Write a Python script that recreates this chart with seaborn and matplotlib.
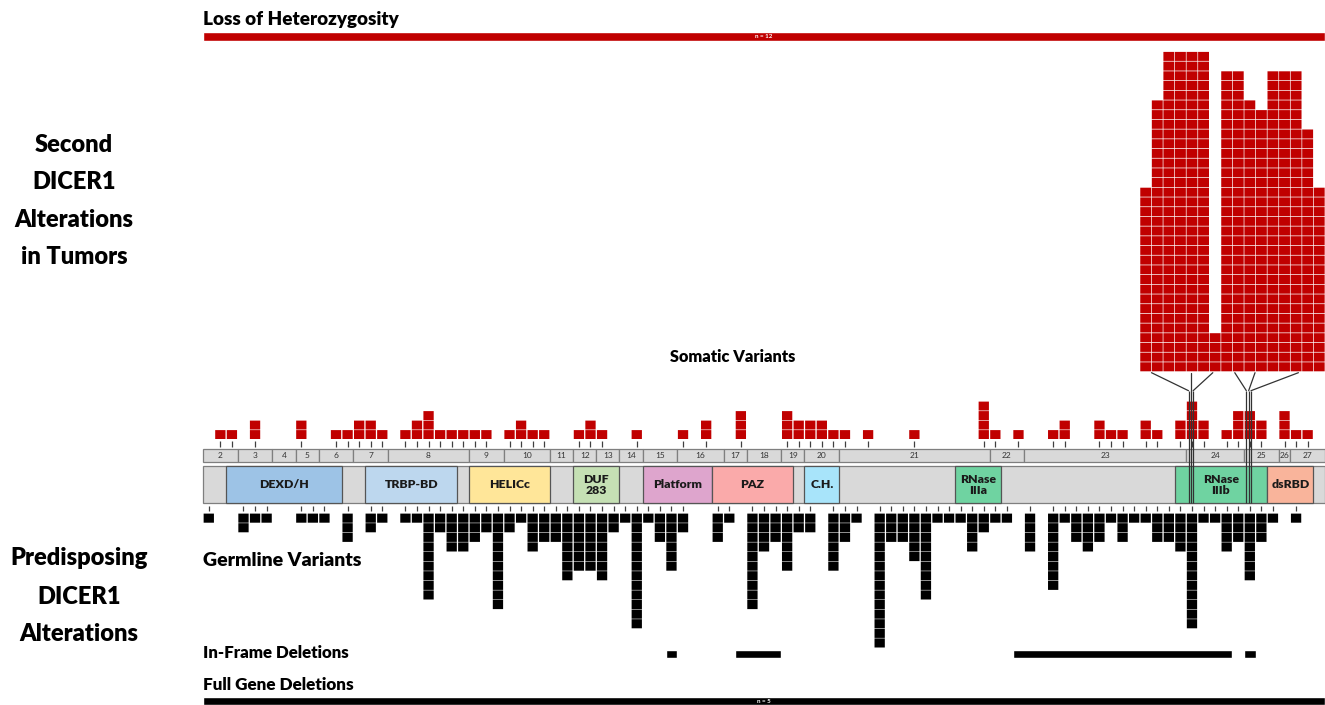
import numpy as np
import pandas as pd
import matplotlib
matplotlib.use("Agg")
from matplotlib import pyplot as plt
import seaborn as sns

# gene axis is in variant slots: 0 = start of the protein bar, 97 = end
exon_edges = [0, 3, 6, 8, 10, 13, 16, 23, 26, 30, 32, 34, 36, 38, 41, 45, 47,
              50, 52, 55, 68, 71, 85, 90, 93, 94, 97]
exon_names = [str(i) for i in range(2, 28)]

domain_names = ["DEXD/H", "TRBP-BD", "HELICc", "DUF\n283", "Platform", "PAZ",
                "C.H.", "RNase\nIIIa", "RNase\nIIIb", "dsRBD"]
domain_start = [2, 14, 23, 32, 38, 44, 52, 65, 84, 92]
domain_end = [12, 22, 30, 36, 44, 51, 55, 69, 92, 96]

# somatic variants (slot, count)
somatic_pos = [1, 2, 4, 8, 11, 12, 13, 14, 15, 17, 18, 19, 20, 21, 22, 23, 24, 26, 27, 28,
               29, 32, 33, 34, 37, 41, 43, 46, 50, 51, 52, 53, 54, 55, 57, 61, 67, 68, 70, 73,
               74, 77, 78, 79, 81, 82, 84, 85, 86, 88, 89, 90, 91, 93, 94, 95]
somatic_n = [1, 1, 2, 2, 1, 1, 2, 2, 1, 1, 2, 3, 1, 1, 1, 1, 1, 1, 2, 1,
             1, 1, 2, 1, 1, 1, 2, 3, 3, 2, 2, 2, 1, 1, 1, 1, 4, 1, 1, 1,
             2, 2, 1, 1, 2, 1, 2, 4, 2, 1, 3, 3, 2, 3, 1, 1]

# germline variants (slot, count)
germline_pos = [0, 3, 4, 5, 8, 9, 10, 12, 14, 15, 17, 18, 19, 20, 21, 22, 23, 24, 25, 26,
                27, 28, 29, 30, 31, 32, 33, 34, 35, 36, 37, 38, 39, 40, 41, 44, 45, 47, 48, 49,
                50, 51, 52, 54, 55, 56, 58, 59, 60, 61, 62, 63, 64, 65, 66, 67, 68, 69, 71, 73,
                74, 75, 76, 77, 78, 79, 80, 81, 82, 83, 84, 85, 86, 87, 88, 89, 90, 91, 92, 94]
germline_n = [1, 2, 1, 1, 1, 1, 1, 3, 2, 1, 1, 1, 9, 2, 4, 4, 3, 2, 10, 2,
              1, 4, 3, 3, 7, 6, 6, 7, 2, 1, 12, 1, 3, 6, 2, 3, 1, 10, 4, 3,
              6, 2, 2, 6, 3, 1, 14, 3, 3, 5, 9, 1, 1, 1, 4, 2, 1, 1, 4, 8,
              1, 3, 4, 3, 1, 3, 1, 1, 3, 3, 4, 12, 1, 1, 4, 3, 7, 3, 1, 1]

# loss of heterozygosity stack (drawn above exons 24-27)
loh_pos = list(range(81, 97))
loh_n = [19, 28, 33, 33, 33, 33, 4, 31, 31, 28, 27, 31, 31, 31, 25, 19]
# fan lines: stack slot -> variant slot
loh_from = [82.0, 85.4, 87.3, 89.2, 90.95, 94.7]
loh_to = [85.2, 85.4, 85.6, 90.2, 90.4, 90.6]

inframe_start = [40, 46, 70, 90]
inframe_end = [41, 50, 89, 91]

loh_total = 12
fullgene_total = 5

RED = "#C00000"
domain_colors = ["#9DC3E6", "#BDD7EE", "#FFE699", "#C5E0B4", "#DEA5CD", "#FAAAAA",
                 "#A8E4FA", "#6FD3A1", "#6FD3A1", "#F9B49B"]

sns.set_theme(style="white")
plt.rcParams["font.family"] = ["Lato", "DejaVu Sans"]

PITCH = 1122 / 97
X0 = 203

fig = plt.figure(figsize=(13.25, 7.05), dpi=100)
ax = fig.add_axes([0, 0, 1, 1])
ax.set_xlim(-X0 / PITCH, (1325 - X0) / PITCH)
ax.set_ylim(705, 0)
ax.axis("off")


def px(x):
    return (x - X0) / PITCH


def stack(pos, n, base, step, up):
    # one row per cell: slot and the y of its top edge (pixels, y grows downwards)
    xs, ys = [], []
    for p, k in zip(pos, n):
        for i in range(k):
            xs.append(p + 0.5)
            ys.append(base - (i + 1) * step if up else base + i * step)
    return pd.DataFrame({"x": xs, "top": ys})


def cells(df, w, h, color):
    ax.bar(df["x"], h, bottom=df["top"] + 0.3, width=w / PITCH,
           color=color, lw=0, snap=False, zorder=3)


cells(stack(loh_pos, loh_n, 371.7, 9.7, True), 10.9, 9.0, RED)
cells(stack(somatic_pos, somatic_n, 439.3, 9.5, True), 10.3, 8.9, RED)
cells(stack(germline_pos, germline_n, 513.3, 9.6, False), 10.3, 9.1, "black")

# ticks under / over the protein
ax.vlines(np.array(somatic_pos) + 0.5, 441, 446.5, color="#404040", lw=0.9)
ax.vlines(np.array(germline_pos) + 0.5, 505.5, 511, color="#404040", lw=0.9)

# exons
edges = np.array(exon_edges)
ax.barh(455.5, edges[1:] - edges[:-1], left=edges[:-1], height=12.4,
        color="#D9D9D9", edgecolor="#7F7F7F", lw=0.9, zorder=2)
for a, b, name in zip(edges[:-1], edges[1:], exon_names):
    ax.text((a + b) / 2, 456, name, ha="center", va="center", fontsize=6, color="#333333", zorder=4)

# protein with domains
ax.barh(484.6, exon_edges[-1], left=0, height=37.3, color="#D9D9D9", edgecolor="#7F7F7F", lw=0.9, zorder=2)
ax.barh(484.6, np.array(domain_end) - np.array(domain_start), left=domain_start, height=37.3,
        color=domain_colors, edgecolor="#555555", lw=0.9, zorder=2)
for a, b, name in zip(domain_start, domain_end, domain_names):
    ax.text((a + b) / 2, 485, name, ha="center", va="center", fontsize=8.8,
            fontweight="heavy", color="#1a1a1a", linespacing=1.05, zorder=4)

# LOH fan lines down to the hotspot slots
for s, t in zip(loh_from, loh_to):
    ax.plot([s, t], [372.7, 390.7], color="#333333", lw=0.9, zorder=5)
ax.vlines(loh_to, 390.7, 503, color="#333333", lw=0.9, zorder=5)

# top LOH bar and bottom full gene deletion bar
ax.barh(36.5, exon_edges[-1], left=0, height=9, color=RED, zorder=2)
ax.text(exon_edges[-1] / 2, 37, f"n = {loh_total}", ha="center", va="center",
        fontsize=4.5, color="white", fontweight="bold", zorder=4)
ax.barh(701, exon_edges[-1], left=0, height=8, color="black", zorder=2)
ax.text(exon_edges[-1] / 2, 701.5, f"n = {fullgene_total}", ha="center", va="center",
        fontsize=4.5, color="white", fontweight="bold", zorder=4)

# in-frame deletions
ax.barh(654, np.array(inframe_end) - np.array(inframe_start), left=inframe_start,
        height=8, color="black", zorder=2)

# section labels
lab = dict(fontweight="heavy", color="black", va="center")
ax.text(0, 19.5, "Loss of Heterozygosity", ha="left", fontsize=13.6, **lab)
ax.text(px(733), 357, "Somatic Variants", ha="center", fontsize=11.8, **lab)
ax.text(0, 561, "Germline Variants", ha="left", fontsize=14, **lab)
ax.text(0, 653, "In-Frame Deletions", ha="left", fontsize=12.2, **lab)
ax.text(0, 685, "Full Gene Deletions", ha="left", fontsize=12.3, **lab)

for y, t in zip([145, 182, 220, 257], ["Second", "DICER1", "Alterations", "in Tumors"]):
    ax.text(px(74), y, t, ha="center", fontsize=17, **lab)
for y, t in zip([558, 597, 634], ["Predisposing", "DICER1", "Alterations"]):
    ax.text(px(79), y, t, ha="center", fontsize=17, **lab)

plt.savefig("out.png", dpi=100)
